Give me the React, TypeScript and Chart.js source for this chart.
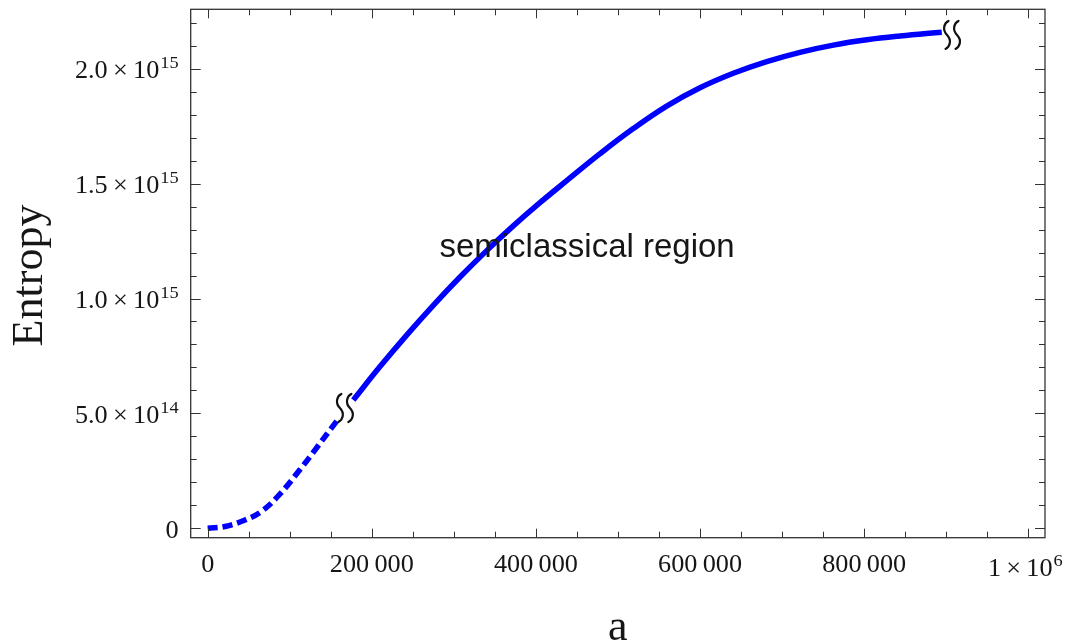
import { useEffect, useRef } from "react";
import { Chart, registerables } from "chart.js";

Chart.register(...registerables);

// ---- data ----
const dashedA = [0, 21080, 45450, 66170, 88100, 112500, 134400, 157200];
const dashedS = [0, 7.8e12, 3.61e13, 7.53e13, 1.493e14, 2.559e14, 3.582e14, 4.669e14];

const solidA = [
  177400, 210000, 242500, 274900, 307500, 340000, 372400, 404900, 437500, 478100,
  518600, 559300, 599900, 640500, 681200, 721800, 762400, 803100, 843700, 894500,
];
const solidS = [
  5.583e14, 7.037e14, 8.407e14, 9.704e14, 1.0936e15, 1.2084e15, 1.3159e15, 1.4169e15, 1.5126e15, 1.6301e15,
  1.7393e15, 1.8372e15, 1.9169e15, 1.98e15, 2.0309e15, 2.0714e15, 2.1027e15, 2.1258e15, 2.1423e15, 2.1588e15,
];

const xMin = -20700;
const xMax = 1020300;
const yMin = -4.09e13;
const yMax = 2.2585e15;

const xMajorTicks = [0, 200000, 400000, 600000, 800000, 1000000];
const xTickBase = ["0", "200\u2009000", "400\u2009000", "600\u2009000", "800\u2009000", "1\u2009×\u200910"];
const xTickExp = ["", "", "", "", "", "6"];
const xMinorStep = 50000;

const yMajorTicks = [0, 5e14, 1e15, 1.5e15, 2e15];
const yTickBase = ["0", "5.0\u2009×\u200910", "1.0\u2009×\u200910", "1.5\u2009×\u200910", "2.0\u2009×\u200910"];
const yTickExp = ["", "14", "15", "15", "15"];
const yMinorStep = 1e14;

const breakA = [167200, 907000];
const breakS = [5.235e14, 2.147e15];

const noteText = "semiclassical region";
const noteA = 462300;
const noteS = 1.182e15;

const xTitle = "a";
const yTitle = "Entropy";

const SERIF = '"Liberation Serif", "Times New Roman", serif';

function drawLabel(ctx: CanvasRenderingContext2D, base: string, exp: string, x: number, y: number, align: string) {
  const FS = 25;
  const SS = 17.5;
  const SX = 1.05;
  ctx.font = `${FS}px ${SERIF}`;
  const wb = ctx.measureText(base).width;
  ctx.font = `${SS}px ${SERIF}`;
  const we = exp ? ctx.measureText(exp).width + 1 : 0;
  const total = (wb + we) * SX;
  const x0 = align === "right" ? x - total : x - total / 2;
  ctx.save();
  ctx.translate(x0, y);
  ctx.scale(SX, 1);
  ctx.textAlign = "left";
  ctx.textBaseline = "alphabetic";
  ctx.fillStyle = "#161616";
  ctx.font = `${FS}px ${SERIF}`;
  ctx.fillText(base, 0, 0);
  if (exp) {
    ctx.font = `${SS}px ${SERIF}`;
    ctx.fillText(exp, wb + 1, -10);
  }
  ctx.restore();
}

function drawBreak(ctx: CanvasRenderingContext2D, cx: number, cy: number) {
  const h = 14;
  ctx.save();
  ctx.strokeStyle = "#111";
  ctx.lineWidth = 2.2;
  ctx.lineCap = "round";
  for (const dx of [-5, 5]) {
    const x = cx + dx;
    ctx.beginPath();
    ctx.moveTo(x + 1.5, cy - h);
    ctx.bezierCurveTo(x - 3, cy - h + 2, x - 5, cy - 5, x, cy);
    ctx.bezierCurveTo(x + 5, cy + 5, x + 3, cy + h - 2, x - 1.5, cy + h);
    ctx.stroke();
  }
  ctx.restore();
}

const framePlugin = {
  id: "mathematicaFrame",
  afterDraw(chart: any) {
    const ctx: CanvasRenderingContext2D = chart.ctx;
    const { left, right, top, bottom } = chart.chartArea;
    const xs = chart.scales.x;
    const ys = chart.scales.y;
    ctx.save();

    // break symbols
    for (let i = 0; i < breakA.length; i++) {
      drawBreak(ctx, xs.getPixelForValue(breakA[i]), ys.getPixelForValue(breakS[i]));
    }

    // annotation
    ctx.fillStyle = "#161616";
    ctx.font = '33px "Liberation Sans", Arial, sans-serif';
    ctx.textAlign = "center";
    ctx.textBaseline = "alphabetic";
    ctx.fillText(noteText, xs.getPixelForValue(noteA), ys.getPixelForValue(noteS));

    // frame
    ctx.strokeStyle = "#333";
    ctx.lineWidth = 1.3;
    ctx.strokeRect(left, top, right - left, bottom - top);

    // ticks
    ctx.lineWidth = 1;
    ctx.strokeStyle = "#333";
    ctx.beginPath();
    for (let v = Math.ceil(xMin / xMinorStep) * xMinorStep; v <= xMax; v += xMinorStep) {
      const major = xMajorTicks.some((m) => Math.abs(m - v) < 1);
      const len = major ? 9 : 6;
      const px = Math.round(xs.getPixelForValue(v)) + 0.5;
      ctx.moveTo(px, bottom);
      ctx.lineTo(px, bottom - len);
      ctx.moveTo(px, top);
      ctx.lineTo(px, top + len);
    }
    for (let v = Math.ceil(yMin / yMinorStep) * yMinorStep; v <= yMax; v += yMinorStep) {
      const major = yMajorTicks.some((m) => Math.abs(m - v) < 1e9);
      const len = major ? 10 : 6;
      const py = Math.round(ys.getPixelForValue(v)) + 0.5;
      ctx.moveTo(left, py);
      ctx.lineTo(left + len, py);
      ctx.moveTo(right, py);
      ctx.lineTo(right - len, py);
    }
    ctx.stroke();

    // tick labels
    for (let i = 0; i < xMajorTicks.length; i++) {
      const px = xs.getPixelForValue(xMajorTicks[i]);
      const shift = xTickExp[i] ? -3 : 0;
      drawLabel(ctx, xTickBase[i], xTickExp[i], px + shift, bottom + 34.3 + (xTickExp[i] ? 4 : 0), "center");
    }
    for (let i = 0; i < yMajorTicks.length; i++) {
      const py = ys.getPixelForValue(yMajorTicks[i]);
      drawLabel(ctx, yTickBase[i], yTickExp[i], left - 12, py + 9.6, "right");
    }

    // axis titles
    ctx.fillStyle = "#161616";
    ctx.font = `44px ${SERIF}`;
    ctx.textAlign = "center";
    ctx.textBaseline = "alphabetic";
    ctx.fillText(xTitle, (left + right) / 2, bottom + 102.3);
    ctx.save();
    ctx.translate(42, (top + bottom) / 2 + 2);
    ctx.rotate(-Math.PI / 2);
    ctx.fillText(yTitle, 0, 0);
    ctx.restore();

    ctx.restore();
  },
};

export default function App() {
  const ref = useRef<HTMLCanvasElement | null>(null);
  useEffect(() => {
    document.body.style.margin = "0";
    const canvas = ref.current;
    if (!canvas) return;
    const chart = new Chart(canvas, {
      type: "line",
      data: {
        datasets: [
          {
            label: "quantum",
            data: dashedA.map((a, i) => ({ x: a, y: dashedS[i] })),
            borderColor: "#0000ff",
            borderWidth: 5.5,
            borderDash: [10, 5],
            borderCapStyle: "butt",
            pointRadius: 0,
            fill: false,
            tension: 0.4,
          },
          {
            label: "semiclassical",
            data: solidA.map((a, i) => ({ x: a, y: solidS[i] })),
            borderColor: "#0000ff",
            borderWidth: 5.5,
            borderCapStyle: "butt",
            pointRadius: 0,
            fill: false,
            tension: 0.4,
          },
        ],
      },
      options: {
        animation: false,
        responsive: true,
        maintainAspectRatio: false,
        layout: { padding: { left: 190.7, top: 9.3, right: 20, bottom: 105.3 } },
        plugins: { legend: { display: false }, tooltip: { enabled: false } },
        scales: {
          x: { type: "linear", min: xMin, max: xMax, display: false },
          y: { type: "linear", min: yMin, max: yMax, display: false },
        },
      },
      plugins: [framePlugin],
    } as any);
    return () => chart.destroy();
  }, []);
  return (
    <div style={{ position: "relative", width: "1065px", height: "643px", background: "#fff" }}>
      <canvas ref={ref} />
    </div>
  );
}
